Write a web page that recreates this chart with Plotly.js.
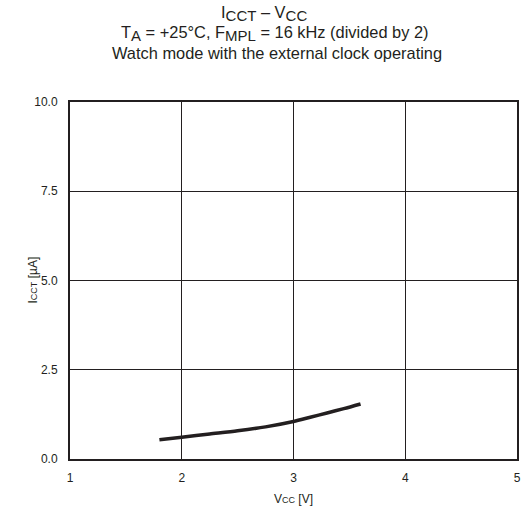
<!DOCTYPE html>
<html><head><meta charset="utf-8">
<script src="https://cdn.plot.ly/plotly-3.0.1.min.js"></script>
<style>body{margin:0;padding:0;background:#fff}#chart{width:532px;height:519px}</style>
</head><body><div id="chart"></div>
<script>
const vcc = [1.8, 2.0, 2.25, 2.5, 2.75, 3.0, 3.15, 3.3, 3.45, 3.6];
const icct = [0.54, 0.61, 0.70, 0.79, 0.90, 1.05, 1.17, 1.29, 1.41, 1.54];
const xTicks = [1, 2, 3, 4, 5];
const yTicks = [0, 2.5, 5, 7.5, 10];
const yTickLabels = ['0.0', '2.5', '5.0', '7.5', '10.0'];
const titleLines = [
  'I<sub><span style="font-size:15px">CCT</span></sub> – V<sub><span style="font-size:15px">CC</span></sub>',
  'T<sub><span style="font-size:15px">A</span></sub> = +25°C, F<sub><span style="font-size:15px">MPL</span></sub> = 16 kHz (divided by 2)',
  'Watch mode with the external clock operating'
];

const font = 'Liberation Sans, Arial, sans-serif';
const ink = '#231f20';
// plot area: left 70, width 447; top 102, bottom 459 (height 357)
const titleX = [264, 275, 277].map(px => (px - 70) / 447);
const titleY = [13, 33, 53].map(py => (459 - py) / 357);
const annotations = titleLines.map((t, i) => ({
  text: t, xref: 'paper', yref: 'paper', x: titleX[i], y: titleY[i],
  xanchor: 'center', yanchor: 'middle', showarrow: false,
  font: {family: font, size: 16.4, color: ink}
}));
annotations.push({
  text: 'I<span style="font-size:9px">CCT</span> [µA]', xref: 'paper', yref: 'paper',
  x: (32 - 70) / 447, y: 0.5, xanchor: 'center', yanchor: 'middle', textangle: -90,
  showarrow: false, font: {family: font, size: 12, color: ink}
});

Plotly.newPlot('chart', [{
  x: vcc, y: icct, type: 'scatter', mode: 'lines',
  line: {color: ink, width: 3.5, shape: 'spline', smoothing: 0.8}, hoverinfo: 'skip'
}], {
  width: 532, height: 519,
  margin: {l: 70, r: 15, t: 102, b: 60},
  paper_bgcolor: '#fff', plot_bgcolor: '#fff',
  showlegend: false,
  font: {family: font, color: ink},
  annotations: annotations,
  xaxis: {
    range: [1, 5], tickvals: xTicks, ticktext: xTicks.map(String),
    showgrid: true, gridcolor: ink, gridwidth: 1,
    showline: true, linecolor: ink, linewidth: 2, mirror: true,
    zeroline: false, ticks: '', ticklen: 0, ticklabelstandoff: 7,
    tickfont: {family: font, size: 12, color: ink},
    title: {text: 'V<span style="font-size:9px">CC</span> [V]', font: {family: font, size: 12, color: ink}, standoff: 10}
  },
  yaxis: {
    range: [0, 10], tickvals: yTicks, ticktext: yTickLabels,
    showgrid: true, gridcolor: ink, gridwidth: 1,
    showline: true, linecolor: ink, linewidth: 2, mirror: true,
    zeroline: false, ticks: '', ticklen: 0, ticklabelstandoff: 8,
    tickfont: {family: font, size: 12, color: ink}
  }
}, {displayModeBar: false, staticPlot: true});
</script></body></html>
